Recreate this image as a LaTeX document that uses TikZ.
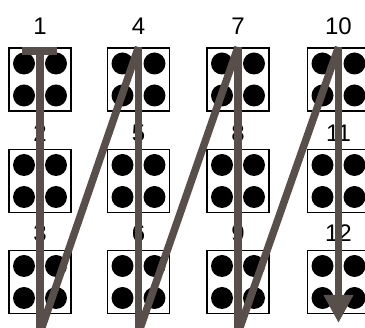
\documentclass[tikz,border=0pt]{standalone}
\usepackage{fontspec}
\setmainfont{Liberation Sans}
\usepackage{tikz}
\usetikzlibrary{arrows.meta, positioning}
\definecolor{zigzag}{RGB}{88,78,74}

\begin{document}
\begin{tikzpicture}[x=1pt, y=-1pt,
        cell/.style={draw=black, line width=1.8pt, fill=white, minimum width=62pt, minimum height=63pt, inner sep=0pt},
        num/.style={font=\fontsize{24}{26}\selectfont, inner sep=0pt},
        trail/.style={draw=zigzag, line width=7.5pt}]
        \useasboundingbox (0,0) rectangle (365,328);
        % the twelve cells, numbered down each column
        \foreach \c/\x in {0/40,1/138.5,2/238,3/338.5}
          \foreach \r/\y/\ly in {0/79.5/26.5,1/181/133,2/282/233.5} {
            \pgfmathtruncatemacro{\n}{3*\c+\r+1}
            \node[cell] (b\n) at (\x,\y) {};
            \foreach \dx/\dy in {-16/-16,16/-16,-16/16,16/16}
              \fill ([shift={(\dx pt,\dy pt)}]b\n.center) circle (11pt);
            \node[num] (n\n) at (\x,\ly) {\n};
          }
        % ends of the zigzag
        \coordinate (t1) at (b1.north);
        \coordinate (t2) at (b4.north);
        \coordinate (t3) at (b7.north);
        \coordinate (t4) at (b10.north);
        \coordinate (u1) at (b3.south |- 0,333);
        \coordinate (u2) at (b6.south |- 0,333);
        \coordinate (u3) at (b9.south |- 0,333);
        \coordinate (u4) at (b12.south |- 0,323);
        \draw[trail] ([xshift=-18pt,yshift=-4pt]b1.north) -- ([xshift=17pt,yshift=-4pt]b1.north);
        \draw[trail] (t1) -- (u1);
        \draw[trail] (u1) -- (t2);
        \draw[trail] (t2) -- (u2);
        \draw[trail] (u2) -- (t3);
        \draw[trail] (t3) -- (u3);
        \draw[trail] (u3) -- (t4);
        \draw[trail, -{Triangle[width=28pt, length=28pt]}] (t4) -- (u4);
    \end{tikzpicture}
\end{document}
